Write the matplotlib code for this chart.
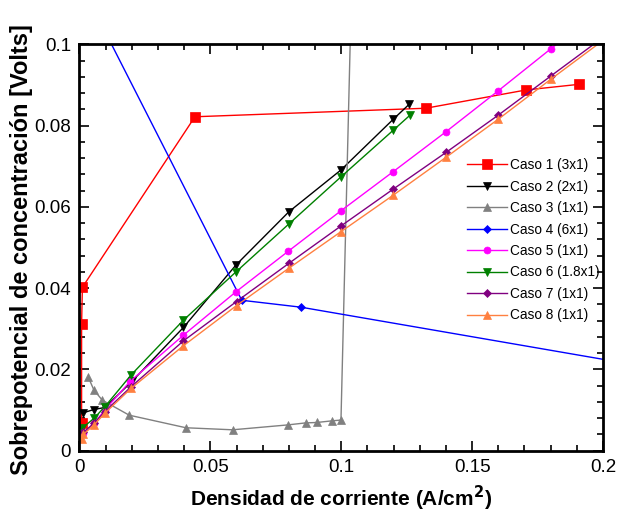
import matplotlib
matplotlib.use("Agg")
import matplotlib.pyplot as plt
from matplotlib.ticker import MultipleLocator

plt.rcParams['font.family'] = ['Liberation Sans Narrow', 'Liberation Sans', 'DejaVu Sans']

# ---- data ----
c1_x = [0.0008, 0.0008, 0.0011, 0.0441, 0.1323, 0.1706, 0.191]
c1_y = [0.0067, 0.0312, 0.0402, 0.0822, 0.0843, 0.0888, 0.0902]

c2_x = [0.0015, 0.0055, 0.0097, 0.020, 0.0397, 0.0598, 0.080, 0.0999, 0.1199, 0.126]
c2_y = [0.0093, 0.0101, 0.0106, 0.0170, 0.0303, 0.0457, 0.0588, 0.0691, 0.0816, 0.0853]

c3_x = [0.0034, 0.0055, 0.0087, 0.019, 0.0407, 0.0585, 0.0795, 0.0864, 0.0906, 0.0964, 0.0999, 0.1036]
c3_y = [0.0180, 0.0149, 0.0124, 0.0087, 0.0056, 0.0051, 0.0063, 0.0068, 0.0069, 0.0073, 0.0075, 0.105]

c4_x = [0.002, 0.062, 0.0846, 0.25]
c4_y = [0.113, 0.0370, 0.0353, 0.0169]

c5_x = [0.0015, 0.0057, 0.0097, 0.0193, 0.0397, 0.0598, 0.0798, 0.0998, 0.1199, 0.140, 0.1598, 0.180, 0.2]
c5_y = [0.0042, 0.0068, 0.0100, 0.0170, 0.0284, 0.0391, 0.0491, 0.0590, 0.0687, 0.0785, 0.0885, 0.0989, 0.109]

c6_x = [0.001, 0.0055, 0.0097, 0.0197, 0.0397, 0.0598, 0.080, 0.0999, 0.1199, 0.1263]
c6_y = [0.0055, 0.0079, 0.0108, 0.0186, 0.0321, 0.0440, 0.0558, 0.0674, 0.0789, 0.0826]

c7_x = [0.0015, 0.0057, 0.0097, 0.0197, 0.0397, 0.060, 0.080, 0.0999, 0.1199, 0.140, 0.160, 0.180, 0.21]
c7_y = [0.0045, 0.0068, 0.0096, 0.0157, 0.0270, 0.0367, 0.0461, 0.0553, 0.0644, 0.0734, 0.0826, 0.0922, 0.1065]

c8_x = [0.0008, 0.0015, 0.0057, 0.0097, 0.0197, 0.0397, 0.060, 0.080, 0.0999, 0.1199, 0.140, 0.160, 0.180, 0.21]
c8_y = [0.0028, 0.0040, 0.0064, 0.0092, 0.0153, 0.0258, 0.0357, 0.0449, 0.0539, 0.0629, 0.0722, 0.0816, 0.0914, 0.1058]

labels = ["Caso 1 (3x1)", "Caso 2 (2x1)", "Caso 3 (1x1)", "Caso 4 (6x1)",
          "Caso 5 (1x1)", "Caso 6 (1.8x1)", "Caso 7 (1x1)", "Caso 8 (1x1)"]

xticks = [0, 0.05, 0.1, 0.15, 0.2]
xticklabels = ["0", "0.05", "0.1", "0.15", "0.2"]
yticks = [0, 0.02, 0.04, 0.06, 0.08, 0.1]
yticklabels = ["0", "0.02", "0.04", "0.06", "0.08", "0.1"]

fig = plt.figure(figsize=(6.24, 5.12), dpi=100)
ax = fig.add_axes([0.1274, 0.1201, 0.8389, 0.7930])

series = [
    (c1_x, c1_y, '#ff0000', 's', 7.0),
    (c2_x, c2_y, '#000000', 'v', 5.5),
    (c3_x, c3_y, '#808080', '^', 5.5),
    (c4_x, c4_y, '#0000ff', 'D', 4.0),
    (c5_x, c5_y, '#ff00ff', 'o', 5.0),
    (c6_x, c6_y, '#008000', 'v', 6.0),
    (c7_x, c7_y, '#800080', 'D', 4.0),
    (c8_x, c8_y, '#ff8040', '^', 6.0),
]
for (xs, ys, col, mk, ms), lab in zip(series, labels):
    ax.plot(xs, ys, color=col, marker=mk, markersize=ms, linewidth=1.0,
            markeredgewidth=0.5, label=lab)

ax.set_xlim(0, 0.2)
ax.set_ylim(0, 0.1)
ax.set_xticks(xticks)
ax.set_xticklabels(xticklabels)
ax.set_yticks(yticks)
ax.set_yticklabels(yticklabels)
ax.xaxis.set_minor_locator(MultipleLocator(0.01))
ax.yaxis.set_minor_locator(MultipleLocator(0.004))
ax.tick_params(which='both', direction='in', top=True, right=True, labelsize=13.5, width=1.2)
ax.tick_params(which='major', length=7, pad=6)
ax.tick_params(which='minor', length=4)
for sp in ax.spines.values():
    sp.set_linewidth(2.0)

ax.set_xlabel("Densidad de corriente (A/cm$^\\mathbf{2}$)", fontsize=15, fontweight='bold', labelpad=6)
ax.set_ylabel("Sobrepotencial de concentración [Volts]", fontsize=17, fontweight='bold')
ax.yaxis.set_label_coords(-0.089, 0.494)

leg = ax.legend(loc='upper left', bbox_to_anchor=(0.736, 0.727), frameon=False,
                prop={'family': ['Liberation Sans', 'DejaVu Sans'], 'size': 9.8},
                handlelength=2.9, handletextpad=0.2, borderaxespad=0.0,
                labelspacing=0.55, borderpad=0.2)

fig.savefig("out.png", dpi=100)
